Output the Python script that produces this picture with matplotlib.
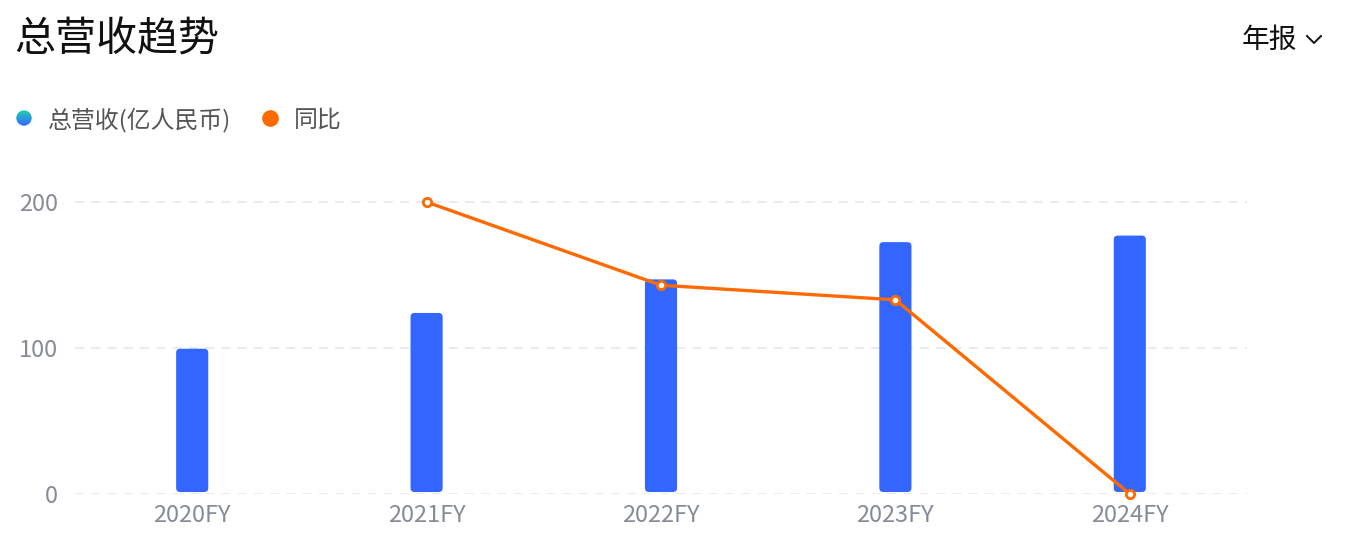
import matplotlib
matplotlib.use("Agg")
import matplotlib.pyplot as plt
import numpy as np
from matplotlib.patches import FancyBboxPatch, Circle
from matplotlib.lines import Line2D
from matplotlib.colors import LinearSegmentedColormap

plt.rcParams['font.family'] = ['Noto Sans CJK SC', 'DejaVu Sans']

categories = ["2020FY", "2021FY", "2022FY", "2023FY", "2024FY"]
revenue = [99.5, 124, 147, 172.5, 177]
yoy = [np.nan, 200, 143, 133, 0]
yticks = [0, 100, 200]

W, H = 1362, 554
fig = plt.figure(figsize=(W / 100, H / 100), dpi=100)

ax_l, ax_r, ax_b, ax_t = 75, 1247, 494, 180
ax = fig.add_axes([ax_l / W, (H - ax_b) / H, (ax_r - ax_l) / W, (ax_b - ax_t) / H])
ymax = 200 * (ax_b - ax_t) / (ax_b - 202)
ax.set_xlim(-0.5, len(categories) - 0.5)
ax.set_ylim(0, ymax)

x = np.arange(len(categories))
bar_color = "#3366ff"
bw = 0.137
bars = ax.bar(x, revenue, width=bw, color=bar_color, zorder=2)
px_per_x = (ax_r - ax_l) / len(categories)
px_per_y = (ax_b - ax_t) / ymax
aspect = px_per_x / px_per_y
for b in bars:
    bx, by = b.get_xy()
    w, h = b.get_width(), b.get_height()
    b.set_visible(False)
    r = 4 / px_per_x
    p = FancyBboxPatch((bx, by + 2 / px_per_y), w, h - 2 / px_per_y,
                       boxstyle=f"round,pad=0,rounding_size={r}",
                       mutation_aspect=aspect, facecolor=bar_color,
                       edgecolor="none", zorder=2)
    ax.add_patch(p)

line_color = "#ff6a00"
ax.plot(x, yoy, color=line_color, lw=2.4, zorder=3, marker="o", ms=6,
        mfc="white", mec=line_color, mew=2, clip_on=False)

for t in yticks:
    ax.axhline(t, color="#e8e9ed", lw=1.3, ls=(0, (5, 4)), zorder=1)

ax.set_yticks(yticks)
ax.set_yticklabels([str(t) for t in yticks])
ax.set_xticks(x)
ax.set_xticklabels(categories)
ax.tick_params(axis="both", length=0, labelsize=17, colors="#868b96")
ax.tick_params(axis="y", pad=12)
ax.tick_params(axis="x", pad=7)
for s in ax.spines.values():
    s.set_visible(False)
ax.grid(False)

# Title and right selector
fig.text(14 / W, 1 - 40 / H, "总营收趋势", fontsize=29.5, color="#111111",
         ha="left", va="center")
fig.text(1242 / W, 1 - 40 / H, "年报", fontsize=20, color="#111111",
         ha="left", va="center")
fig.add_artist(Line2D([1307 / W, 1314 / W, 1321 / W],
                      [1 - 36 / H, 1 - 43 / H, 1 - 36 / H],
                      color="#111111", lw=1.4))

# Legend
lx, ly = 24, 118
cax = fig.add_axes([(lx - 8) / W, 1 - (ly + 8) / H, 16 / W, 16 / H])
cax.set_axis_off()
grad = np.linspace(0, 1, 64).reshape(-1, 1)
cmap = LinearSegmentedColormap.from_list("g", ["#22d1b0", "#3366ff"])
im = cax.imshow(grad, cmap=cmap, aspect="auto", extent=[0, 1, 1, 0])
cax.set_xlim(0, 1)
cax.set_ylim(1, 0)
circ = Circle((0.5, 0.5), 0.48, transform=cax.transData)
im.set_clip_path(circ)

fig.text(48 / W, 1 - 120 / H, "总营收(亿人民币)", fontsize=17.2, color="#555555",
         ha="left", va="center")
fig.add_artist(Line2D([270 / W], [1 - 118 / H], marker="o", ms=12,
                      color=line_color, mec="none"))
fig.text(294 / W, 1 - 120 / H, "同比", fontsize=17.2, color="#555555",
         ha="left", va="center")

fig.savefig("out.png", dpi=100, facecolor="white")
